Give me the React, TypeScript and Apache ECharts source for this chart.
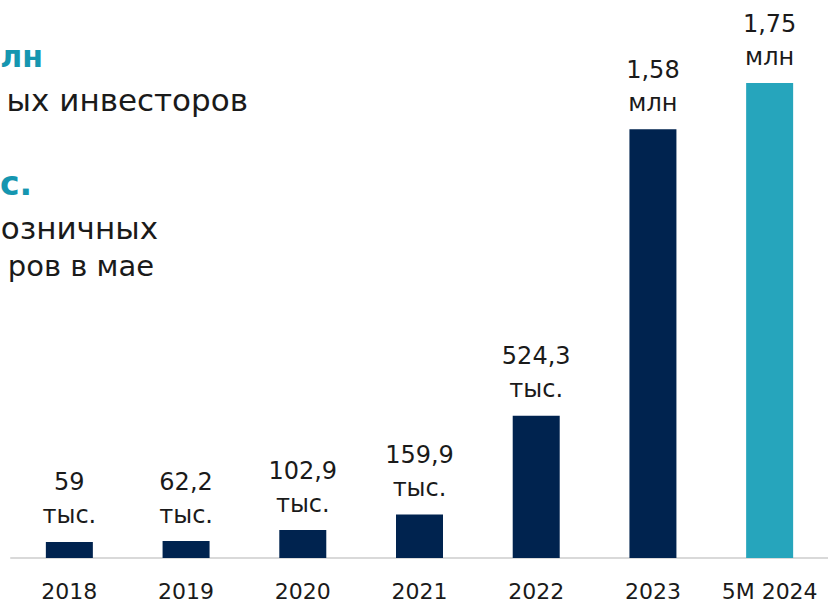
import React, { useEffect, useRef } from "react";
import * as echarts from "echarts";

const categories = ["2018", "2019", "2020", "2021", "2022", "2023", "5M 2024"];
const values = [59, 62.2, 102.9, 159.9, 524.3, 1580, 1750];
const labelNumbers = ["59", "62,2", "102,9", "159,9", "524,3", "1,58", "1,75"];
const labelUnits = ["тыс.", "тыс.", "тыс.", "тыс.", "тыс.", "млн", "млн"];
const barColors = ["#00234f", "#00234f", "#00234f", "#00234f", "#00234f", "#00234f", "#26a5bc"];
const headlineTexts = ["лн", "ых инвесторов", "с.", "озничных", "ров в мае"];

const FONT = "DejaVu Sans";

export default function App() {
  const ref = useRef<HTMLDivElement>(null);
  useEffect(() => {
    if (!ref.current) return;
    const chart = echarts.init(ref.current, null, { renderer: "svg" });
    chart.setOption({
      animation: false,
      backgroundColor: "#ffffff",
      textStyle: { fontFamily: FONT },
      grid: { left: 11, right: 0, top: 83, bottom: 44, containLabel: false },
      xAxis: {
        type: "category",
        data: categories,
        axisLine: { show: true, lineStyle: { color: "#d9d9d9", width: 2 } },
        axisTick: { show: false },
        axisLabel: { fontSize: 22, color: "#1a1a1a", margin: 22, fontFamily: FONT, interval: 0 },
      },
      yAxis: { type: "value", min: 0, max: 1750, show: false, splitLine: { show: false } },
      series: [
        {
          type: "bar",
          barWidth: 47,
          data: values.map((v, i) => ({ value: v, itemStyle: { color: barColors[i] } })),
          label: {
            show: true,
            position: "top",
            distance: 10,
            fontSize: 24,
            lineHeight: 33,
            color: "#1a1a1a",
            fontFamily: FONT,
            formatter: (p: any) => labelNumbers[p.dataIndex] + "\n" + labelUnits[p.dataIndex],
          },
        },
      ],
      graphic: [
        { type: "text", x: 43, y: 56, style: { text: headlineTexts[0], align: "right", verticalAlign: "middle", font: `bold 30px "${FONT}"`, fill: "#1596b0" } },
        { type: "text", x: 248, y: 100, style: { text: headlineTexts[1], align: "right", verticalAlign: "middle", font: `31px "${FONT}"`, fill: "#1a1a1a" } },
        { type: "text", x: 32, y: 183, style: { text: headlineTexts[2], align: "right", verticalAlign: "middle", font: `bold 33px "${FONT}"`, fill: "#1596b0" } },
        { type: "text", x: 158, y: 228, style: { text: headlineTexts[3], align: "right", verticalAlign: "middle", font: `31px "${FONT}"`, fill: "#1a1a1a" } },
        { type: "text", x: 154, y: 266, style: { text: headlineTexts[4], align: "right", verticalAlign: "middle", font: `29px "${FONT}"`, fill: "#1a1a1a" } },
      ],
    });
    return () => chart.dispose();
  }, []);
  return (
    <div
      ref={ref}
      style={{ position: "fixed", left: 0, top: 0, width: 828, height: 602 }}
    />
  );
}
